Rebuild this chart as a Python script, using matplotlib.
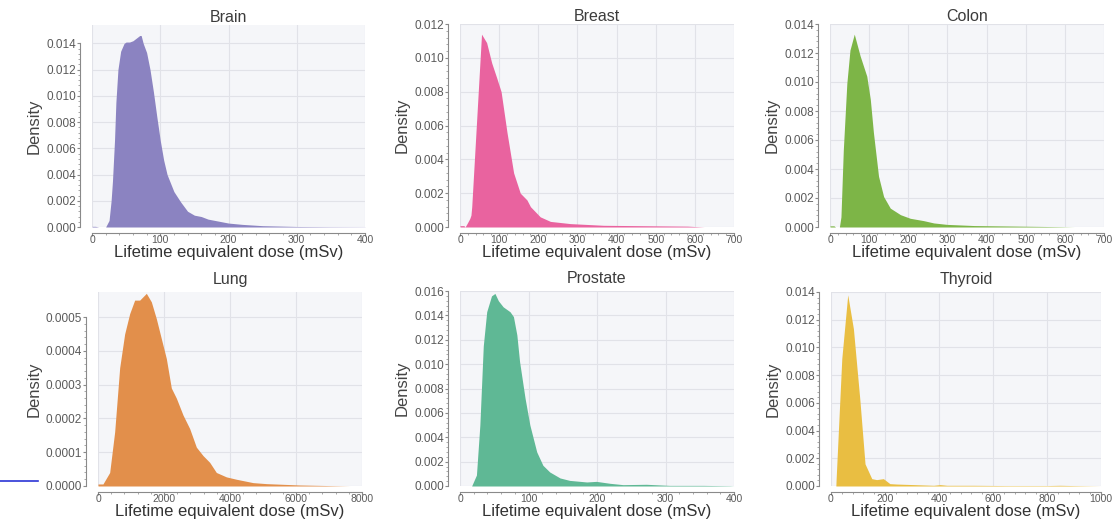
import matplotlib
matplotlib.use("Agg")
import matplotlib.pyplot as plt
import numpy as np
from matplotlib.ticker import MultipleLocator, FixedLocator
from matplotlib.lines import Line2D

# Curvas de densidade (dose em mSv, densidade)
brain_x = [0, 5, 10, 20, 25, 28, 30, 33, 35, 38, 42, 47, 50, 55, 60, 65, 70, 72, 75, 80, 85, 90, 95,
           100, 105, 110, 120, 130, 140, 150, 160, 170, 180, 190, 200, 220, 250, 300, 350, 400]
brain_y = [0.00005, 0.00005, 0.0, 0.0, 0.0005, 0.002, 0.0035, 0.0066, 0.0095, 0.0120, 0.0134, 0.0140,
           0.0141, 0.0141, 0.0142, 0.0144, 0.0146, 0.0146, 0.0140, 0.0133, 0.0120, 0.0103, 0.0084,
           0.0066, 0.0051, 0.0040, 0.0027, 0.0019, 0.0012, 0.0009, 0.0008, 0.0006, 0.0005, 0.0004,
           0.0003, 0.0002, 0.0001, 0.00004, 0.00002, 0.00001]

breast_x = [0, 10, 13, 18, 25, 28, 30, 55, 68, 81, 94, 105, 120, 137, 154, 171, 180, 205, 231,
            282, 367, 453, 581, 624, 700]
breast_y = [0.00008, 0.00008, 0.0, 0.0002, 0.0005, 0.0007, 0.0012, 0.0114, 0.0109, 0.0097, 0.0088,
            0.0080, 0.0056, 0.0032, 0.0020, 0.0016, 0.0012, 0.0006, 0.00033, 0.0002, 0.0001,
            0.00008, 0.00005, 0.0, 0.0]

colon_x = [0, 10, 14, 24, 28, 34, 43, 51, 62, 77, 94, 103, 111, 124, 137, 154, 180, 205, 239,
           265, 299, 368, 453, 538, 590, 624, 700]
colon_y = [0.00008, 0.00008, 0.0, 0.0, 0.0007, 0.0053, 0.0099, 0.0122, 0.0133, 0.0118, 0.0104,
           0.0088, 0.0065, 0.0035, 0.0021, 0.0013, 0.00085, 0.0006, 0.00044, 0.00028, 0.00018,
           0.0001, 0.00007, 0.00004, 0.00002, 0.0, 0.0]

lung_x = [0, 150, 354, 505, 657, 808, 960, 1111, 1263, 1364, 1465, 1616, 1768, 1919, 2071, 2222,
          2374, 2576, 2778, 2980, 3182, 3384, 3586, 3889, 4192, 4697, 5100, 6111, 7121, 7626, 8000]
lung_y = [0.000006, 0.000006, 0.00004, 0.00016, 0.00035, 0.00045, 0.00051, 0.00055, 0.00055,
          0.00056, 0.00057, 0.000545, 0.000495, 0.000436, 0.000377, 0.00029, 0.00026, 0.00021,
          0.00017, 0.000115, 0.00009, 0.00007, 0.00004, 0.000027, 0.00002, 0.00001, 0.000007,
          0.000003, 0.000001, 0.0, 0.0]

prostate_x = [0, 17, 24, 29, 34, 39, 46, 51, 56, 63, 73, 78, 83, 87, 95, 102, 112, 121, 131, 146,
              160, 185, 199, 219, 238, 272, 306, 355, 394, 400]
prostate_y = [0.0, 0.0, 0.0009, 0.0050, 0.0115, 0.0143, 0.0156, 0.0158, 0.0152, 0.0147, 0.0143,
              0.0139, 0.0124, 0.0102, 0.0072, 0.0050, 0.0028, 0.0017, 0.00115, 0.00066, 0.00046,
              0.00033, 0.00038, 0.00022, 0.00011, 0.00014, 0.00005, 0.00005, 0.00002, 0.0]

thyroid_x = [0, 18, 19, 40, 62, 83, 107, 126, 151, 169, 194, 218, 244, 306, 380, 404, 429, 528,
             651, 800, 848, 898, 1000]
thyroid_y = [0.0, 0.0, 0.0005, 0.0092, 0.0138, 0.01135, 0.0062, 0.0016, 0.00053, 0.00046, 0.00053,
             0.00017, 0.00014, 0.0001, 0.00005, 0.0001, 0.00005, 0.00005, 0.00003, 0.00003,
             0.00005, 0.00003, 0.0]

titles = ['Brain', 'Breast', 'Colon', 'Lung', 'Prostate', 'Thyroid']
colors = ['#8b83c1', '#e9639f', '#7db547', '#e28f4b', '#5fb895', '#e9be42']

# posições dos painéis em pixels (esquerda, direita, base, topo)
panels = [
    (brain_x, brain_y, (0, 400), 100, (0, 0.0154), 0.002, (92, 365, 227, 25)),
    (breast_x, breast_y, (0, 700), 100, (0, 0.012), 0.002, (460, 734, 227, 24)),
    (colon_x, colon_y, (0, 700), 100, (0, 0.014), 0.002, (830, 1104, 227, 24)),
    (lung_x, lung_y, (0, 8000), 2000, (0, 0.000574), 0.0001, (98, 362, 486, 292)),
    (prostate_x, prostate_y, (0, 400), 100, (0, 0.016), 0.002, (460, 734, 486, 291)),
    (thyroid_x, thyroid_y, (0, 1000), 200, (0, 0.014), 0.002, (831, 1101, 486, 292)),
]

W, H = 1114, 525
plt.rcParams['font.family'] = ['Liberation Sans', 'DejaVu Sans']
fig = plt.figure(figsize=(W / 100, H / 100), dpi=100)

for i, ((x, y, xlim, xstep, ylim, ystep, box), title, color) in enumerate(zip(panels, titles, colors)):
    l, r, b, t = box
    ax = fig.add_axes([l / W, (H - b) / H, (r - l) / W, (b - t) / H])
    ax.set_facecolor('#f5f6f9')
    ax.fill_between(x, y, 0, color=color, linewidth=0, zorder=2)
    ax.set_xlim(*xlim)
    ax.set_ylim(*ylim)
    ytop = int(ylim[1] / ystep + 1e-6) * ystep
    ax.xaxis.set_major_locator(MultipleLocator(xstep))
    ax.yaxis.set_major_locator(MultipleLocator(ystep))
    # ticks menores só dentro do eixo aparado
    ax.xaxis.set_minor_locator(FixedLocator(np.linspace(xlim[0], xlim[1], int(xlim[1] / xstep) * 5 + 1)))
    ax.yaxis.set_minor_locator(FixedLocator(np.linspace(0, ytop, int(round(ytop / ystep)) * 5 + 1)))
    if ystep < 0.001:
        ax.yaxis.set_major_formatter(lambda v, p: f'{v:.4f}')
    else:
        ax.yaxis.set_major_formatter(lambda v, p: f'{v:.3f}')
    ax.grid(True, which='major', color='#e1e2e8', linewidth=0.8, zorder=0)
    ax.set_axisbelow(True)
    for s in ['top', 'right']:
        ax.spines[s].set_visible(False)
    ax.spines['left'].set_position(('outward', 8.5))
    ax.spines['bottom'].set_position(('outward', 4))
    ax.spines['left'].set_bounds(0, ytop)
    ax.spines['bottom'].set_bounds(*xlim)
    for s in ['left', 'bottom']:
        ax.spines[s].set_color('#8a8a8a')
        ax.spines[s].set_linewidth(0.8)
    ax.tick_params(which='major', length=2, width=0.8, color='#8a8a8a',
                   labelsize=8.5, labelcolor='#5a5a5a', pad=1)
    ax.tick_params(axis='x', which='major', pad=0, labelsize=7.5)
    ax.tick_params(which='minor', length=1.4, width=0.6, color='#9a9a9a')
    ax.set_title(title, fontsize=11.5, color='#3c3c3c', pad=2 if i < 3 else 6)
    ax.set_xlabel('Lifetime equivalent dose (mSv)', fontsize=12, color='#333333', labelpad=0)
    ax.set_ylabel('Density', fontsize=12, color='#444444', labelpad=3,
                  family=['Liberation Sans Narrow', 'Liberation Sans'])

# traço azul no canto inferior esquerdo
fig.add_artist(Line2D([0 / W, 38 / W], [(H - 481) / H, (H - 481) / H],
                      color='#2b35d6', linewidth=1.2, transform=fig.transFigure))

fig.savefig('out.png', dpi=100)
